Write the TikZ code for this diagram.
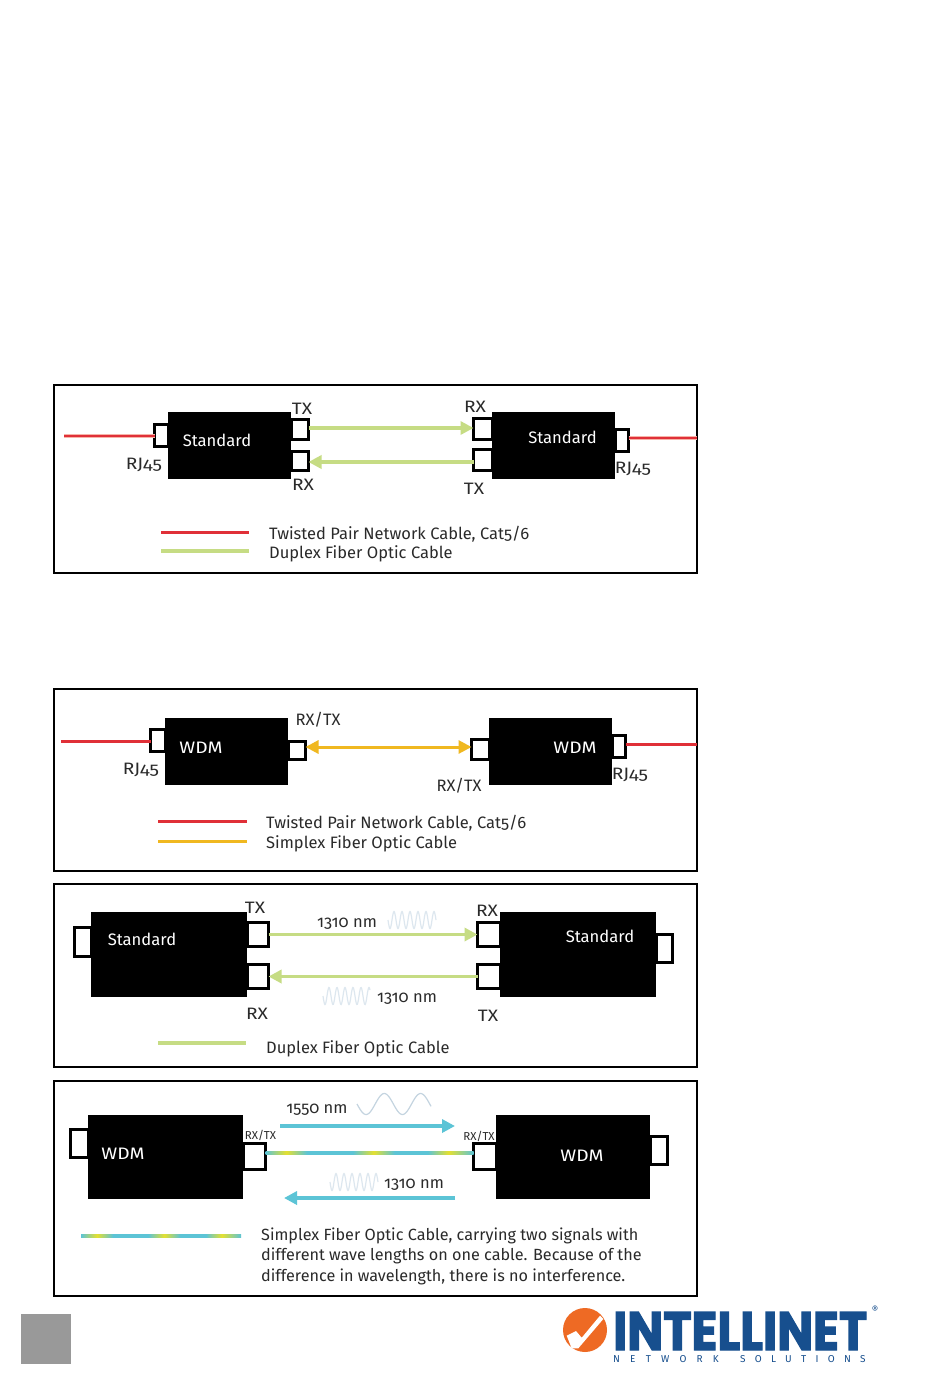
\documentclass[tikz,border=0pt]{standalone}
\usepackage{fontspec}
\setmainfont{Fira Sans}[Numbers=OldStyle]
\newfontfamily\logofont{Poppins}[BoldFeatures={FakeBold=2.5}]
\usetikzlibrary{arrows.meta}
\definecolor{cblred}{HTML}{E03038}
\definecolor{cblpink}{HTML}{F6B4A8}
\definecolor{cblgreen}{HTML}{C6DC84}
\definecolor{cblorange}{HTML}{F0B820}
\definecolor{cblteal}{HTML}{5CC4D6}
\definecolor{cblyellow}{HTML}{E4E030}
\definecolor{wavec}{HTML}{C4D4E0}
\definecolor{wavep}{HTML}{DDE7EF}
\definecolor{inkc}{HTML}{2A2A2A}
\definecolor{logoblue}{HTML}{174F8E}
\definecolor{logoorange}{HTML}{EE6A24}
\pgfdeclarehorizontalshading{wdmline}{100bp}{color(0bp)=(cblteal); color(25bp)=(cblteal); color(30bp)=(cblyellow); color(35bp)=(cblteal); color(46bp)=(cblteal); color(51bp)=(cblyellow); color(56bp)=(cblteal); color(64bp)=(cblteal); color(69bp)=(cblyellow); color(75bp)=(cblteal); color(100bp)=(cblteal)}
\tikzset{
  panel/.style={draw=black,line width=1.6pt,fill=white,inner sep=0pt,outer sep=0pt},
  blackbox/.style={fill=black,inner sep=0pt,outer sep=0pt},
  portbox/.style={draw=black,line width=3pt,fill=white,inner sep=0pt,outer sep=0pt},
  lbl/.style={text=inkc,inner sep=0pt,yshift=-1pt,font=\fontsize{16.5}{18}\selectfont},
  boxlbl/.style={text=white,inner sep=0pt,font=\fontsize{16.6}{18}\selectfont},
  leg/.style={text=inkc,inner sep=0pt,anchor=west,yshift=-1pt,font=\fontsize{16.5}{18}\selectfont},
  legb/.style={text=inkc,inner sep=0pt,anchor=west,yshift=-1pt,font=\fontsize{16.2}{18}\selectfont},
  tinylbl/.style={text=inkc,inner sep=0pt,font=\fontsize{11.5}{12}\selectfont},
  redcbl/.style={draw=cblpink,line width=3.5pt,postaction={draw=cblred,line width=1.6pt}},
  redleg/.style={draw=cblred,line width=3pt},
  grncbl/.style={draw=cblgreen,line width=3.5pt},
  orgcbl/.style={draw=cblorange,line width=3pt},
  tealcbl/.style={draw=cblteal,line width=3.5pt},
  tipf/.style={-{Triangle[length=13pt,width=13pt]}},
  tipb/.style={{Triangle[length=13pt,width=13pt]}-{Triangle[length=13pt,width=13pt]}},
  wave/.style={draw=wavec,line width=1.2pt},
  wavepale/.style={draw=wavep,line width=1.2pt},
}
\newcommand\nbox[6]{\node[#1,minimum width={(#5-(#3))*1pt},minimum height={(#6-(#4))*1pt}] (#2) at ({(#3+#5)/2},{(#4+#6)/2}) {};}
\newcommand\wdr[1]{\scalebox{1.16}[1]{#1}}
\begin{document}
\begin{tikzpicture}[x=1pt,y=-1pt]
\useasboundingbox (0,0) rectangle (950,1374);
\fill[white] (0,0) rectangle (950,1374);

% ---------- panel 1
\nbox{panel}{pa}{54}{385}{697}{573}
\nbox{blackbox}{a1}{168}{412}{291}{479}
\nbox{blackbox}{a2}{492}{412}{615}{479}
\nbox{portbox}{a1r}{154.5}{424.5}{168}{446.5}
\nbox{portbox}{a1t}{291}{419.5}{308.5}{439.5}
\nbox{portbox}{a1x}{291}{451}{308.5}{470}
\nbox{portbox}{a2r}{473.5}{418.5}{492}{439.5}
\nbox{portbox}{a2x}{473.5}{449.5}{492}{470}
\nbox{portbox}{a2j}{615}{429.5}{628.5}{451.5}
\coordinate (a0) at (64,436);
\coordinate (a9) at (697,438);
\draw[redcbl] (a0) -- (a1r.west |- a0);
\draw[redcbl] (a2j.east |- a9) -- (a9);
\draw[grncbl,tipf] ([yshift=1.5pt]a1t.east) -- ([yshift=1pt]a2r.west);
\draw[grncbl,tipf] ([yshift=-2.25pt]a2x.west) -- ([yshift=-1.5pt]a1x.east);
\node[boxlbl] (a1l) at (217,440) {Standard};
\node[boxlbl] (a2l) at (562.5,437) {Standard};
\node[lbl] (a3) at (302,408) {\wdr{TX}};
\node[lbl] (a4) at (303,484) {\wdr{RX}};
\node[lbl] (a5) at (475,406) {\wdr{RX}};
\node[lbl] (a6) at (474,488) {\wdr{TX}};
\node[lbl] (a7) at (144,464) {\wdr{RJ45}};
\node[lbl] (a8) at (633,468) {\wdr{RJ45}};
\coordinate (al1) at (161,532); \coordinate (al2) at (249,532);
\coordinate (al3) at (161,551); \coordinate (al4) at (249,551);
\draw[redleg] (al1) -- (al2);
\draw[grncbl] (al3) -- (al4);
\node[leg] (at1) at (269,533) {Twisted Pair Network Cable, Cat5/6};
\node[leg] (at2) at (269,553) {Duplex Fiber Optic Cable};

% ---------- panel 2
\nbox{panel}{pb}{54}{689}{697}{871}
\nbox{blackbox}{b1}{165}{718}{288}{785}
\nbox{blackbox}{b2}{489}{718}{612}{785}
\nbox{portbox}{b1r}{150.5}{729.5}{165}{751.5}
\nbox{portbox}{b1t}{288}{741.5}{305.5}{759.5}
\nbox{portbox}{b2t}{471.5}{739.5}{489}{759.5}
\nbox{portbox}{b2j}{612}{735.5}{625.5}{757.5}
\coordinate (b0) at (61,741);
\coordinate (b9) at (697,744);
\draw[draw=cblred,line width=3pt] (b0) -- (b1r.west |- b0);
\draw[draw=cblred,line width=3pt] (b2j.east |- b9) -- (b9);
\draw[orgcbl,tipb] ([yshift=3.5pt]b1t.east) -- ([yshift=2.5pt]b2t.west);
\node[boxlbl] (b1l) at (201,748) {\wdr{WDM}};
\node[boxlbl] (b2l) at (575,748) {\wdr{WDM}};
\node[lbl] (b3) at (318,719) {RX/TX};
\node[lbl] (b4) at (459,785) {RX/TX};
\node[lbl] (b5) at (141,769) {\wdr{RJ45}};
\node[lbl] (b6) at (630,774) {\wdr{RJ45}};
\coordinate (bl1) at (158,821); \coordinate (bl2) at (247,821);
\coordinate (bl3) at (158,841); \coordinate (bl4) at (247,841);
\draw[redleg] (bl1) -- (bl2);
\draw[orgcbl] (bl3) -- (bl4);
\node[leg] (bt1) at (266,822) {Twisted Pair Network Cable, Cat5/6};
\node[leg] (bt2) at (266,843) {Simplex Fiber Optic Cable};

% ---------- panel 3
\nbox{panel}{pc}{54}{884}{697}{1067}
\nbox{blackbox}{c1}{91}{912}{247}{997}
\nbox{blackbox}{c2}{500}{912}{656}{997}
\nbox{portbox}{c1r}{74.5}{927.5}{91}{956.5}
\nbox{portbox}{c1t}{247}{922.5}{268.5}{946.5}
\nbox{portbox}{c1x}{247}{964.5}{268.5}{988.5}
\nbox{portbox}{c2r}{477.5}{922.5}{500}{946.5}
\nbox{portbox}{c2x}{477.5}{964.5}{500}{988.5}
\nbox{portbox}{c2j}{656}{934.5}{672.5}{962.5}
\draw[grncbl,tipf] (c1t.east) -- (c2r.west);
\draw[grncbl,tipf] (c2x.west) -- (c1x.east);
\node[boxlbl] (c1l) at (142,939) {Standard};
\node[boxlbl] (c2l) at (600,936) {Standard};
\node[lbl] (c3) at (255,907) {\wdr{TX}};
\node[lbl] (c4) at (257,1013) {\wdr{RX}};
\node[lbl] (c5) at (487,910) {\wdr{RX}};
\node[lbl] (c6) at (488,1015) {\wdr{TX}};
\node[lbl] (c7) at (347,923) {1310 nm};
\node[lbl] (c8) at (407,998) {1310 nm};
\draw[wavepale,smooth] plot[domain=388:436,samples=97] (\x,{920+8.5*sin((\x-388)*45)});
\draw[wavepale,smooth] plot[domain=323:370,samples=97] (\x,{996+8.5*sin((\x-323)*45)});
\coordinate (cl1) at (158,1043); \coordinate (cl2) at (246,1043);
\draw[grncbl] (cl1) -- (cl2);
\node[leg] (ct1) at (266,1048) {Duplex Fiber Optic Cable};

% ---------- panel 4
\nbox{panel}{pd}{54}{1081}{697}{1296}
\nbox{blackbox}{d1}{88}{1115}{243}{1199}
\nbox{blackbox}{d2}{496}{1115}{650}{1199}
\nbox{portbox}{d1r}{70.5}{1129.5}{88}{1157.5}
\nbox{portbox}{d1t}{243}{1143.5}{265.5}{1169.5}
\nbox{portbox}{d2t}{473.5}{1143.5}{496}{1169.5}
\nbox{portbox}{d2j}{650}{1136.5}{667.5}{1164.5}
\shade[shading=wdmline] ([yshift=5.5pt]d1t.east) rectangle ([yshift=2.5pt]d2t.west);
\coordinate (d0a) at (280,1126); \coordinate (d0b) at (455,1126);
\coordinate (d9a) at (455,1198); \coordinate (d9b) at (284,1198);
\draw[tealcbl,tipf] (d0a) -- (d0b);
\draw[tealcbl,tipf] (d9a) -- (d9b);
\node[boxlbl] (d1l) at (123,1154) {\wdr{WDM}};
\node[boxlbl] (d2l) at (582,1156) {\wdr{WDM}};
\node[tinylbl] (d3) at (260.5,1135) {RX/TX};
\node[tinylbl] (d4) at (479,1136) {RX/TX};
\node[lbl] (d5) at (317,1109) {1550 nm};
\node[lbl] (d6) at (414,1184) {1310 nm};
\draw[wave,smooth] plot[domain=357:431,samples=75] (\x,{1104+10.5*sin((\x-357)*9.9)});
\draw[wavepale,smooth] plot[domain=330:378,samples=97] (\x,{1182+8.5*sin((\x-330)*45)});
\coordinate (dl1) at (81,1234.5); \coordinate (dl2) at (241,1237.5);
\shade[shading=wdmline] (dl1) rectangle (dl2);
\node[legb] (dt1) at (261,1235) {Simplex Fiber Optic Cable, carrying two signals with};
\node[legb] (dt2) at (261,1255) {different wave lengths on one cable. Because of the};
\node[legb] (dt3) at (261,1276) {difference in wavelength, there is no interference.};

% ---------- page foot
\nbox{fill=black!40,inner sep=0pt,outer sep=0pt}{gs}{21}{1314}{71}{1364}
\fill[logoorange] (585,1330) circle (22);
\fill[white] (566.7,1335.7) -- (576,1331) -- (581.7,1337.7) -- (600,1315.7) -- (603.3,1319) -- (578.3,1348.3) -- (571.7,1348.3) -- cycle;
\node[inner sep=0pt,anchor=west,text=logoblue] (lg) at (613,1331) {\resizebox{254pt}{38pt}{\logofont\bfseries INTELLINET}};
\node[inner sep=0pt,text=logoblue,font=\fontsize{10}{12}\selectfont] (lgr) at (875,1310) {®};
\node[inner sep=0pt,anchor=west,text=logoblue,font=\fontsize{10}{12}\selectfont\addfontfeatures{LetterSpace=102}] (lgn) at (613,1359.5) {NETWORK};
\node[inner sep=0pt,anchor=west,text=logoblue,font=\fontsize{10}{12}\selectfont\addfontfeatures{LetterSpace=93}] (lgs) at (740,1359.5) {SOLUTIONS};
\end{tikzpicture}
\end{document}
